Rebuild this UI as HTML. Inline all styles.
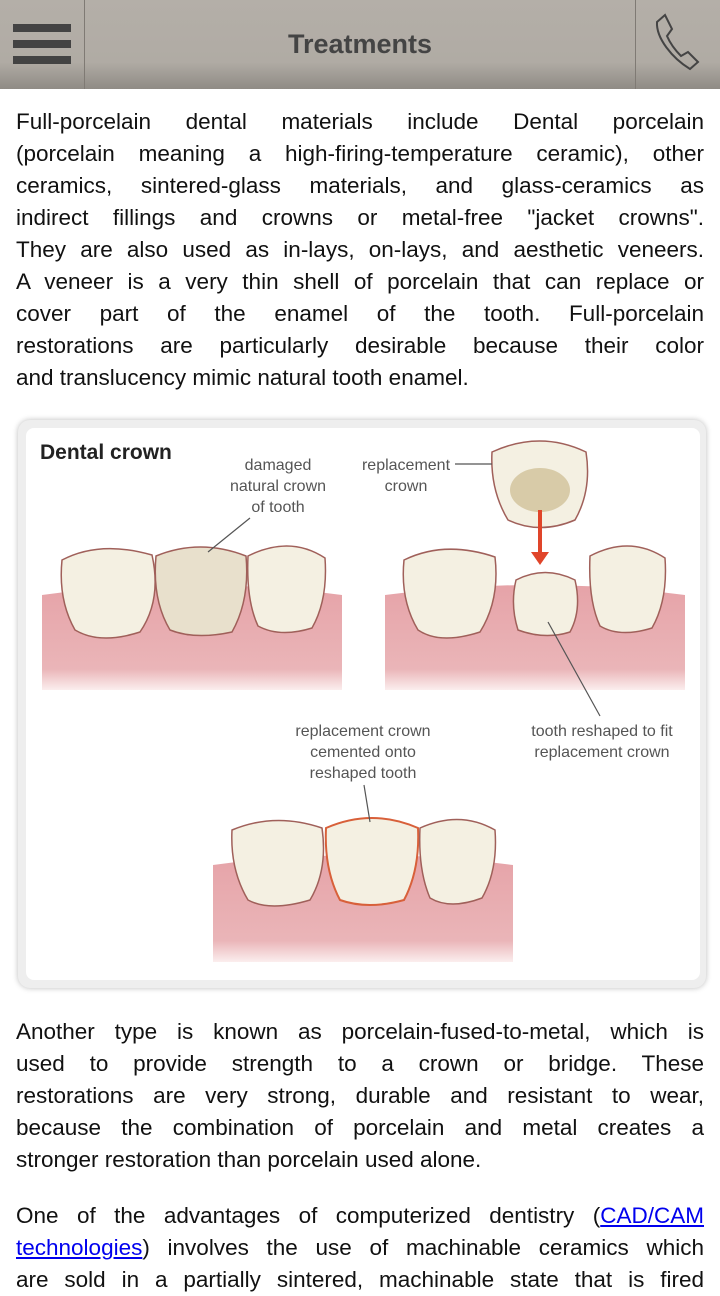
<!DOCTYPE html>
<html><head><meta charset="utf-8"><style>
*{margin:0;padding:0;box-sizing:border-box}
body{width:720px;height:1280px;overflow:hidden;background:#fff;font-family:"Liberation Sans",sans-serif;color:#111;position:relative}
.hdr{position:absolute;left:0;top:0;width:720px;height:89px;background:linear-gradient(#b4afa8 0%,#b0aba4 70%,#8f8b85 100%)}
.hdr .d1{position:absolute;left:84px;top:0;width:1px;height:89px;background:#7f7a74}
.hdr .d2{position:absolute;left:635px;top:0;width:1px;height:89px;background:#7f7a74}
.bar{position:absolute;left:13px;width:58px;height:8px;background:#434343}
.title{position:absolute;left:0;width:720px;top:29px;text-align:center;font-size:27px;font-weight:bold;color:#444}
.p{position:absolute;left:16px;width:688px;font-size:22.5px;line-height:32px}
.l{text-align:justify;text-align-last:justify;white-space:nowrap;height:32px}
.l.e{text-align-last:left}
a{color:#0000ee}
.card{position:absolute;left:18px;top:420px;width:688px;height:568px;border-radius:12px;background:#eee;box-shadow:0 0 6px #bbb}
.inner{position:absolute;left:8px;top:8px;width:674px;height:552px;background:#fff;border-radius:8px}
</style></head><body>
<div class="hdr"><div class="d1"></div><div class="d2"></div>
<div class="bar" style="top:24px"></div><div class="bar" style="top:40px"></div><div class="bar" style="top:56px"></div>
<div class="title">Treatments</div>
<svg style="position:absolute;left:650px;top:10px" width="60" height="62" viewBox="0 0 60 62"><path d="M15 5 L7 12 C6 28 22 48 40 59 L48 52 L38 42 L31 46 C25 40 20 33 17 26 L22 19 Z" fill="none" stroke="#444" stroke-width="2"/></svg>
</div>
<div class="p" style="top:106px">
<div class="l">Full-porcelain dental materials include Dental porcelain</div>
<div class="l">(porcelain meaning a high-firing-temperature ceramic), other</div>
<div class="l">ceramics, sintered-glass materials, and glass-ceramics as</div>
<div class="l">indirect fillings and crowns or metal-free "jacket crowns".</div>
<div class="l">They are also used as in-lays, on-lays, and aesthetic veneers.</div>
<div class="l">A veneer is a very thin shell of porcelain that can replace or</div>
<div class="l">cover part of the enamel of the tooth. Full-porcelain</div>
<div class="l">restorations are particularly desirable because their color</div>
<div class="l e">and translucency mimic natural tooth enamel.</div>
</div>
<div class="card"><div class="inner"></div></div>
<svg style="position:absolute;left:0;top:0" width="720" height="1000" viewBox="0 0 720 1000" font-family="Liberation Sans,sans-serif">
<defs><linearGradient id="g" x1="0" y1="0" x2="0" y2="1"><stop offset="0" stop-color="#e6a3a8"/><stop offset="0.8" stop-color="#eab5b8"/><stop offset="1" stop-color="#fbeeee"/></linearGradient></defs>
<text x="40" y="459" font-size="21" font-weight="bold" fill="#222">Dental crown</text>
<g font-size="16" fill="#555" text-anchor="middle">
<text x="278" y="470">damaged</text><text x="278" y="491">natural crown</text><text x="278" y="512">of tooth</text>
<text x="406" y="470">replacement</text><text x="406" y="491">crown</text>
<text x="602" y="736">tooth reshaped to fit</text><text x="602" y="757">replacement crown</text>
<text x="363" y="736">replacement crown</text><text x="363" y="757">cemented onto</text><text x="363" y="778">reshaped tooth</text>
</g>
<g><path d="M42 595 Q190 575 342 595 L342 690 L42 690Z" fill="url(#g)"/>
<path d="M385 595 Q535 575 685 595 L685 690 L385 690Z" fill="url(#g)"/>
<path d="M213 865 Q363 845 513 865 L513 962 L213 962Z" fill="url(#g)"/></g>
<g fill="#f4f0e2" stroke="#a0605a" stroke-width="1.5">
<path d="M62 560 Q100 540 152 555 Q162 600 140 632 Q100 645 75 630 Q58 600 62 560Z"/>
<path d="M156 556 Q200 538 246 556 Q250 600 232 632 Q195 640 170 630 Q152 600 156 556Z" fill="#e8e0cc"/>
<path d="M248 556 Q290 535 325 558 Q328 600 312 628 Q280 638 258 626 Q246 600 248 556Z"/>
<path d="M404 560 Q445 540 495 557 Q500 600 480 632 Q440 645 418 630 Q400 600 404 560Z"/>
<path d="M516 580 Q545 565 575 580 Q582 610 570 632 Q545 640 518 630 Q510 605 516 580Z"/>
<path d="M590 556 Q630 535 665 558 Q668 600 652 628 Q620 638 600 626 Q588 600 590 556Z"/>
<path d="M492 452 Q540 430 586 452 Q592 490 575 520 Q540 535 508 520 Q490 490 492 452Z"/>
<path d="M232 830 Q275 812 322 828 Q328 870 310 900 Q270 912 248 900 Q230 870 232 830Z"/>
<path d="M326 828 Q372 808 418 828 Q420 870 404 900 Q368 910 340 900 Q324 870 326 828Z" stroke="#d8603a" stroke-width="2"/>
<path d="M420 828 Q460 810 495 830 Q498 870 482 898 Q450 910 430 898 Q418 870 420 828Z"/>
</g>
<g stroke="#555" stroke-width="1.2"><line x1="250" y1="518" x2="208" y2="552"/><line x1="455" y1="464" x2="492" y2="464"/><line x1="548" y1="622" x2="600" y2="716"/><line x1="364" y1="785" x2="370" y2="822"/></g>
<ellipse cx="540" cy="490" rx="30" ry="22" fill="#d8cba8"/>
<line x1="540" y1="510" x2="540" y2="555" stroke="#e0452a" stroke-width="4"/><path d="M531 552 L549 552 L540 565Z" fill="#e0452a"/>
</svg>
<div class="p" style="top:1016px">
<div class="l">Another type is known as porcelain-fused-to-metal, which is</div>
<div class="l">used to provide strength to a crown or bridge. These</div>
<div class="l">restorations are very strong, durable and resistant to wear,</div>
<div class="l">because the combination of porcelain and metal creates a</div>
<div class="l e">stronger restoration than porcelain used alone.</div>
</div>
<div class="p" style="top:1200px">
<div class="l">One of the advantages of computerized dentistry (<a href="#">CAD/CAM</a></div>
<div class="l"><a href="#">technologies</a>) involves the use of machinable ceramics which</div>
<div class="l">are sold in a partially sintered, machinable state that is fired</div>
</div>
</body></html>
